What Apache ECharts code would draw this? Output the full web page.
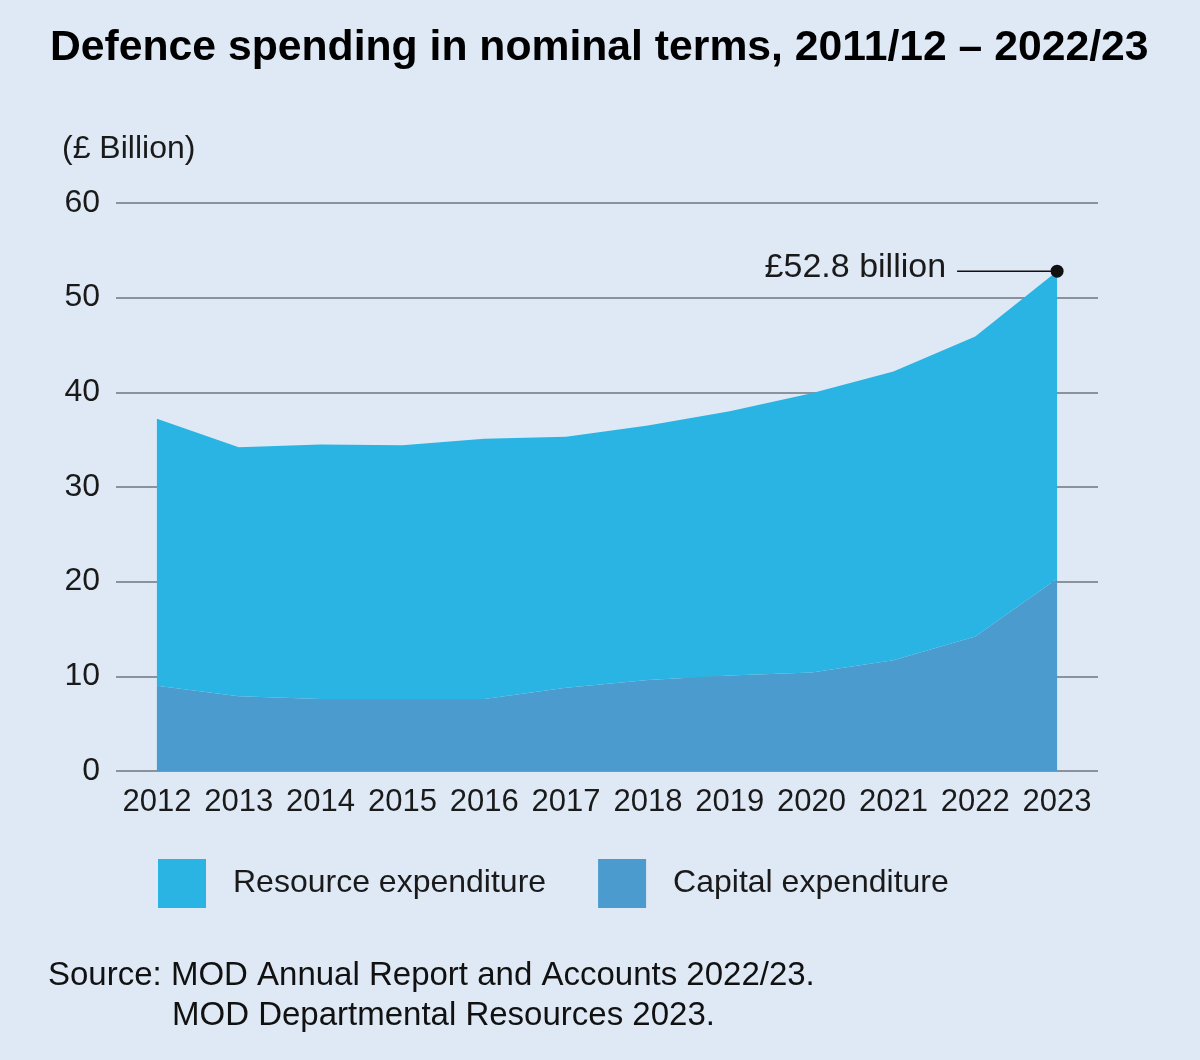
<!DOCTYPE html>
<html>
<head>
<meta charset="utf-8">
<script src="https://cdn.jsdelivr.net/npm/echarts@6/dist/echarts.min.js"></script>
<style>
html,body{margin:0;padding:0;background:#dee9f5;}
#chart{width:1200px;height:1060px;}
</style>
</head>
<body>
<div id="chart"></div>
<script>
const categories = ['2012','2013','2014','2015','2016','2017','2018','2019','2020','2021','2022','2023'];
const capitalExpenditure = [9.0, 7.9, 7.6, 7.6, 7.6, 8.8, 9.6, 10.1, 10.4, 11.7, 14.2, 20.3];
const resourceExpenditure = [28.2, 26.3, 26.9, 26.8, 27.5, 26.5, 26.9, 27.9, 29.5, 30.5, 31.7, 32.5];
const yTicks = [0, 10, 20, 30, 40, 50, 60];
const seriesNames = ['Resource expenditure', 'Capital expenditure'];
const annotationIndex = 11;
const annotationValue = 52.8;
const annotationLabel = '£52.8 billion';
const titleText = 'Defence spending in nominal terms, 2011/12 – 2022/23';
const unitText = '(£ Billion)';
const sourceLine1 = 'Source: MOD Annual Report and Accounts 2022/23.';
const sourceLine2 = 'MOD Departmental Resources 2023.';

const SANS = '"Liberation Sans", Arial, Helvetica, sans-serif';
const COL_RES = '#29b4e3';
const COL_CAP = '#4b9bcf';
const TXT = '#1a1a1a';

const chart = echarts.init(document.getElementById('chart'), null, {renderer: 'canvas'});

function baseGraphics() {
  return [
    {type: 'text', left: 50, top: 27, style: {text: titleText, font: 'bold 42.7px ' + SANS, fill: '#000'}},
    {type: 'text', left: 62, top: 133, style: {text: unitText, font: '32px ' + SANS, fill: TXT}},
    {type: 'text', left: 48, top: 959, style: {text: sourceLine1, font: '33px ' + SANS, fill: '#111'}},
    {type: 'text', left: 172, top: 999, style: {text: sourceLine2, font: '33px ' + SANS, fill: '#111'}}
  ];
}

const option = {
  backgroundColor: '#dee9f5',
  animation: false,
  grid: {left: 116, right: 102, top: 203, bottom: 289},
  legend: {
    data: seriesNames,
    left: 158, top: 859, padding: 0,
    itemWidth: 48, itemHeight: 49, itemGap: 52,
    icon: 'rect',
    textStyle: {fontFamily: SANS, fontSize: 32, color: TXT, padding: [5, 0, 0, 22]}
  },
  xAxis: {
    type: 'category',
    data: categories,
    boundaryGap: true,
    axisLine: {show: false},
    axisTick: {show: false},
    axisLabel: {fontFamily: SANS, fontSize: 31, color: TXT, margin: 16, interval: 0}
  },
  yAxis: {
    type: 'value',
    min: yTicks[0], max: yTicks[yTicks.length - 1], interval: 10,
    axisLine: {show: false},
    axisTick: {show: false},
    axisLabel: {fontFamily: SANS, fontSize: 32, color: TXT, margin: 16, padding: [14, 0, 0, 0]},
    splitLine: {lineStyle: {color: '#8a929c', width: 2}}
  },
  series: [
    {
      name: seriesNames[1], type: 'line', stack: 'total',
      data: capitalExpenditure,
      symbol: 'none', lineStyle: {width: 0}, itemStyle: {color: COL_CAP},
      areaStyle: {color: COL_CAP, opacity: 1}
    },
    {
      name: seriesNames[0], type: 'line', stack: 'total',
      data: resourceExpenditure,
      symbol: 'none', lineStyle: {width: 0}, itemStyle: {color: COL_RES},
      areaStyle: {color: COL_RES, opacity: 1},
      markPoint: {
        symbol: 'circle', symbolSize: 13,
        itemStyle: {color: '#111'},
        label: {show: false},
        data: [{coord: [annotationIndex, annotationValue]}]
      }
    }
  ],
  graphic: baseGraphics()
};
chart.setOption(option);

const p = chart.convertToPixel({gridIndex: 0}, [annotationIndex, annotationValue]);
chart.setOption({
  graphic: baseGraphics().concat([
    {type: 'line', shape: {x1: p[0] - 100, y1: p[1], x2: p[0], y2: p[1]}, style: {stroke: '#111', lineWidth: 1.5}, z: 10},
    {type: 'text', x: p[0] - 111, y: p[1] - 4, style: {text: annotationLabel, font: '34px ' + SANS, fill: TXT, textAlign: 'right', textVerticalAlign: 'middle'}, z: 10}
  ])
});
</script>
</body>
</html>
